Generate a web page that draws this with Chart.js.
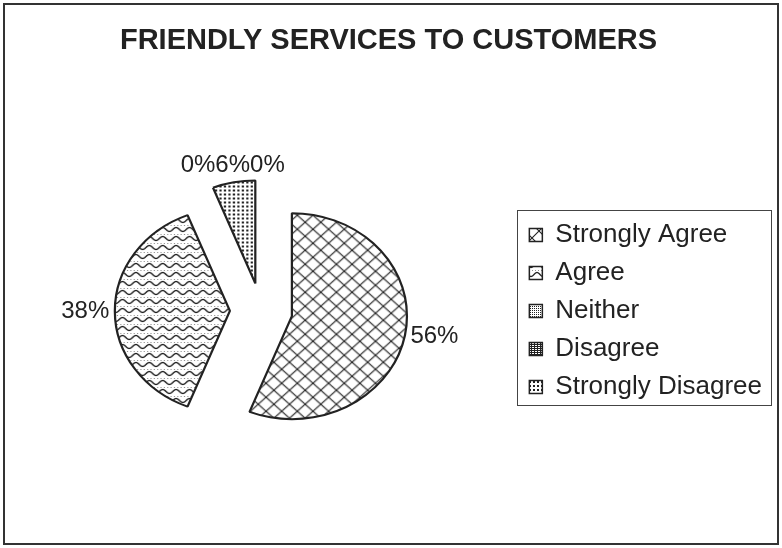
<!DOCTYPE html>
<html lang="en">

<head>
    <meta charset="UTF-8">
    <title>Friendly Services to Customers</title>
    <script src="https://cdn.jsdelivr.net/npm/chart.js"></script>
    <style>
        body { margin: 0; background: #fff; }
    </style>
</head>

<body>
    <canvas id="pieChart" width="782" height="548"></canvas>

    <script>
        const labels = ['Strongly Agree', 'Agree', 'Neither', 'Disagree', 'Strongly Disagree'];
        const percents = [56, 38, 0, 0, 6];

        const FONT = '"Liberation Sans", Arial, sans-serif';
        const INK = '#222';
        const EXPLODE = 28;     // distance each slice is pulled out from the centre
        const STRETCH = 1.117;  // the pie is drawn a bit wider than tall

        // small black-on-white tiles used as slice fills
        function makePattern(w, h, paint) {
            const c = document.createElement('canvas');
            c.width = w;
            c.height = h;
            const g = c.getContext('2d');
            g.fillStyle = '#fff';
            g.fillRect(0, 0, w, h);
            g.fillStyle = INK;
            g.strokeStyle = INK;
            paint(g, w, h);
            return g.createPattern(c, 'repeat');
        }

        const fills = [
            makePattern(14, 14, (g, w, h) => {
                g.lineWidth = 1.1;
                g.beginPath();
                g.moveTo(-1, -1); g.lineTo(w + 1, h + 1);
                g.moveTo(-1, h + 1); g.lineTo(w + 1, -1);
                g.stroke();
            }),
            makePattern(12, 9, (g, w) => {
                g.lineWidth = 1.3;
                g.beginPath();
                for (let x = -1; x <= w + 1; x += 0.5) {
                    const y = 4.5 + 2 * Math.sin(x / w * Math.PI * 2);
                    if (x === -1) g.moveTo(x, y); else g.lineTo(x, y);
                }
                g.stroke();
                g.globalAlpha = 0.5;
                for (let x = 1; x < w; x += 3) g.fillRect(x, 0, 1, 1);
            }),
            makePattern(2, 2, g => g.fillRect(0, 0, 1, 1)),
            makePattern(3, 2, g => { g.fillRect(0, 0, 1, 2); g.fillRect(1, 0, 2, 1); }),
            makePattern(4, 4, g => g.fillRect(1, 1, 2, 2))
        ];

        // white background, outer frame and a box round the legend
        const frames = {
            id: 'frames',
            beforeDraw(chart) {
                const ctx = chart.ctx;
                ctx.save();
                ctx.fillStyle = '#fff';
                ctx.fillRect(0, 0, chart.width, chart.height);
                ctx.restore();
            },
            afterDraw(chart) {
                const ctx = chart.ctx;
                const legend = chart.legend;
                const boxes = legend.legendHitBoxes;
                const first = boxes[0], last = boxes[boxes.length - 1];
                const top = Math.round(first.top - 12);
                const bottom = Math.round(last.top + last.height + 5);
                ctx.save();
                ctx.strokeStyle = '#444';
                ctx.lineWidth = 1;
                ctx.strokeRect(Math.round(legend.left) + 0.5, top + 0.5,
                    Math.round(legend.right - legend.left) - 1, bottom - top);
                ctx.strokeStyle = '#333';
                ctx.lineWidth = 2;
                ctx.strokeRect(4, 4, chart.width - 8, chart.height - 8);
                ctx.restore();
            }
        };

        // draw the slices pulled apart, on a horizontally stretched pie
        const explodedPie = {
            id: 'explodedPie',
            beforeDatasetsDraw(chart) {
                const ctx = chart.ctx;
                const meta = chart.getDatasetMeta(0);
                const cx = (chart.chartArea.left + chart.chartArea.right) / 2;
                ctx.save();
                ctx.translate(cx, 0);
                ctx.scale(STRETCH, 1);
                ctx.translate(-cx, 0);
                meta.data.forEach(arc => {
                    const mid = (arc.startAngle + arc.endAngle) / 2;
                    ctx.save();
                    ctx.translate(Math.cos(mid) * EXPLODE, Math.sin(mid) * EXPLODE);
                    arc.draw(ctx);
                    ctx.restore();
                });
                ctx.restore();
                return false;
            }
        };

        // percentage labels outside the slices; labels that would collide are
        // lined up in a row next to the one they hit
        const sliceLabels = {
            id: 'sliceLabels',
            afterDraw(chart) {
                const ctx = chart.ctx;
                const meta = chart.getDatasetMeta(0);
                ctx.save();
                ctx.font = '24px ' + FONT;
                ctx.fillStyle = INK;
                ctx.textAlign = 'center';
                ctx.textBaseline = 'middle';
                const order = percents.map((v, i) => i).sort((a, b) => percents[b] - percents[a]);
                const placed = [];
                order.forEach(i => {
                    const arc = meta.data[i];
                    const text = percents[i] + '%';
                    const w = ctx.measureText(text).width;
                    const h = 24;
                    const mid = (arc.startAngle + arc.endAngle) / 2;
                    const cos = Math.cos(mid), sin = Math.sin(mid);
                    const r = EXPLODE + arc.outerRadius + 5;
                    const ax = arc.x + cos * r * STRETCH;
                    const ay = arc.y + sin * r;
                    const x1 = cos > 0.3 ? ax : cos < -0.3 ? ax - w : ax - w / 2;
                    const y1 = sin > 0.3 ? ay : sin < -0.3 ? ay - h : ay - h / 2;
                    const box = { x1, y1, x2: x1 + w, y2: y1 + h };
                    const hit = placed.find(b => box.x1 < b.x2 + 20 && box.x2 > b.x1 - 20 &&
                        box.y1 < b.y2 && box.y2 > b.y1);
                    if (hit) {
                        const row = hit.row;
                        if (row.n % 2 === 0) {
                            box.x2 = row.left; box.x1 = row.left - w; row.left = box.x1;
                        } else {
                            box.x1 = row.right; box.x2 = row.right + w; row.right = box.x2;
                        }
                        row.n++;
                        box.y1 = row.y1; box.y2 = row.y2;
                        box.row = row;
                    } else {
                        box.row = { left: box.x1, right: box.x2, y1: box.y1, y2: box.y2, n: 0 };
                    }
                    placed.push(box);
                    ctx.fillText(text, (box.x1 + box.x2) / 2, (box.y1 + box.y2) / 2);
                });
                ctx.restore();
            }
        };

        const ctx = document.getElementById('pieChart').getContext('2d');
        new Chart(ctx, {
            type: 'pie',
            data: {
                labels: labels,
                datasets: [{
                    data: percents,
                    backgroundColor: fills,
                    borderColor: INK,
                    borderWidth: 2
                }]
            },
            options: {
                responsive: false,
                animation: false,
                events: [],
                radius: 103,
                layout: { padding: { left: 5, right: 10, top: 0, bottom: 0 } },
                plugins: {
                    title: {
                        display: true,
                        text: 'FRIENDLY SERVICES TO CUSTOMERS',
                        color: INK,
                        font: { family: FONT, size: 29, weight: 'bold' },
                        padding: { top: 24, bottom: 15 }
                    },
                    legend: {
                        position: 'right',
                        fullSize: false,
                        labels: {
                            boxWidth: 13,
                            boxHeight: 13,
                            padding: 12,
                            color: INK,
                            font: { family: FONT, size: 26 },
                            generateLabels(chart) {
                                const items = Chart.overrides.pie.plugins.legend.labels.generateLabels(chart);
                                items.forEach(item => {
                                    item.lineWidth = 1.5;
                                    item.strokeStyle = INK;
                                });
                                return items;
                            }
                        }
                    },
                    tooltip: { enabled: false }
                }
            },
            plugins: [frames, explodedPie, sliceLabels]
        });
    </script>
</body>

</html>
